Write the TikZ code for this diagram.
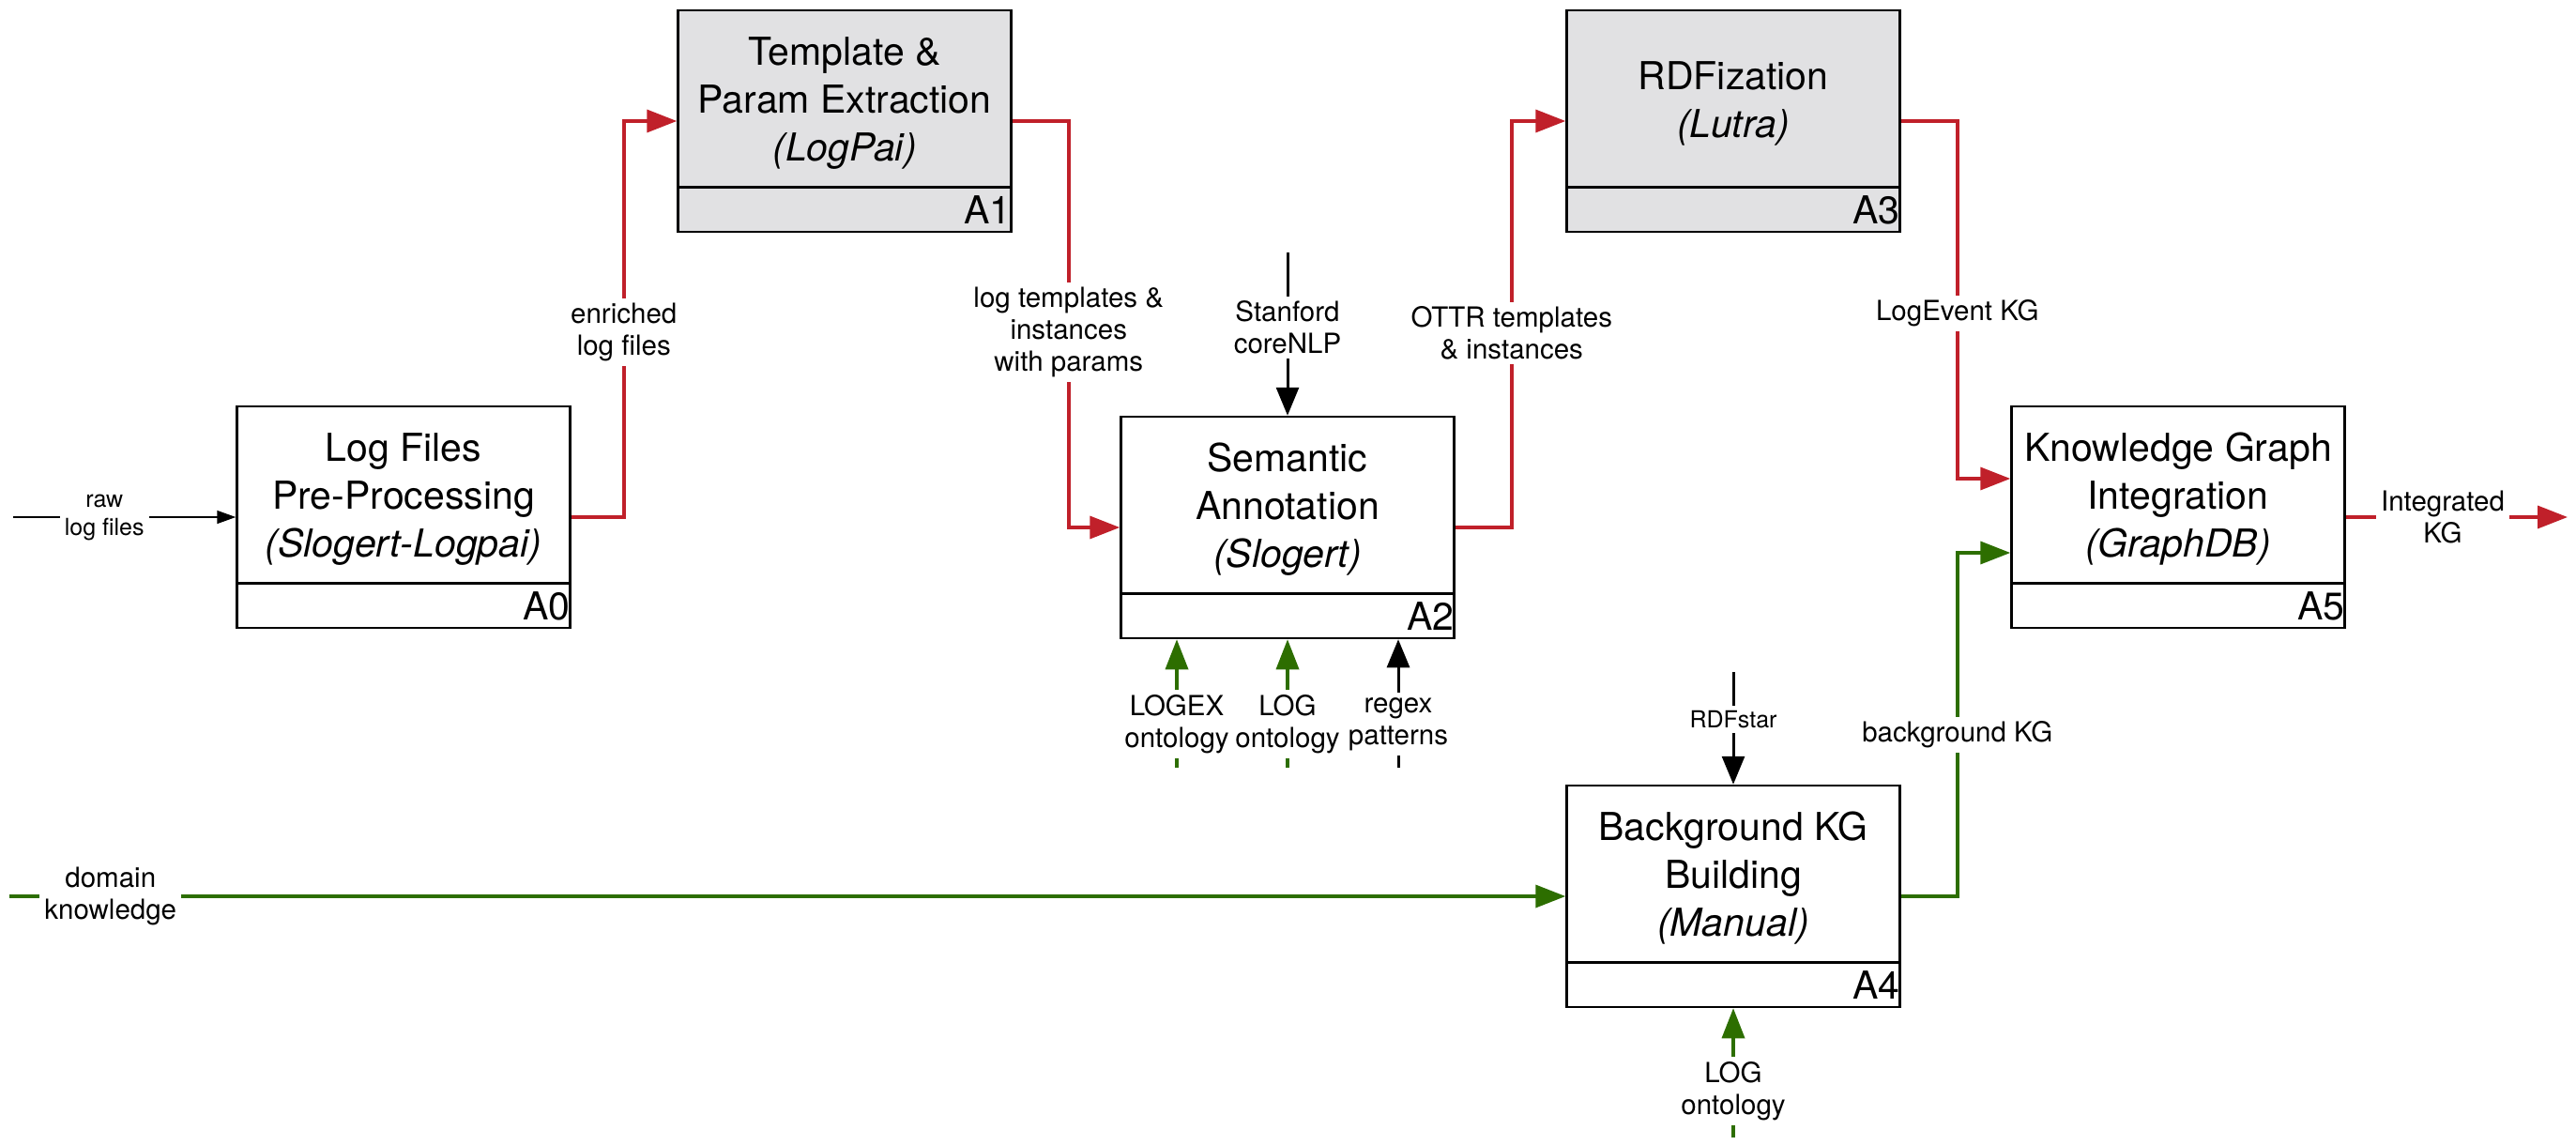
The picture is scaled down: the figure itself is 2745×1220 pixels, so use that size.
\documentclass[tikz,border=0pt]{standalone}
\usepackage{fontspec}
\setmainfont{TeX Gyre Heros}
\usetikzlibrary{arrows.meta}

\definecolor{flowred}{HTML}{C0202A}
\definecolor{mechgreen}{HTML}{2D6E00}
\definecolor{boxgrey}{HTML}{E1E1E3}

\newcommand{\boxfont}{\fontsize{41pt}{51pt}\selectfont}
\newcommand{\lblfont}{\fontsize{29.5pt}{34pt}\selectfont}
\newcommand{\lblsmallfont}{\fontsize{25pt}{30pt}\selectfont}

\begin{document}
\begin{tikzpicture}[x=1pt,y=-1pt,
   box/.style={rectangle,draw,line width=2.5pt,minimum width=355pt,
    minimum height=236pt,inner sep=0pt},
   greybox/.style={box,fill=boxgrey},
   boxtitle/.style={align=center,font=\boxfont,inner sep=0pt},
   boxid/.style={anchor=east,font=\boxfont,inner sep=1pt},
   lbl/.style={fill=white,align=center,font=\lblfont,inner xsep=5pt,inner ysep=5pt},
   smalllbl/.style={lbl,font=\lblsmallfont},
   flow/.style={draw=flowred,line width=3.5pt,-{Triangle[length=32pt,width=24pt]}},
   mech/.style={draw=mechgreen,line width=3.5pt,-{Triangle[length=32pt,width=24pt]}},
   ctrl/.style={draw=black,line width=3pt,-{Triangle[length=30pt,width=24pt]}},
   thinarrow/.style={draw=black,line width=1.5pt,-{Triangle[length=20pt,width=14pt]}}
    ]

  \useasboundingbox (0,0) rectangle (2745,1220);

  % -- activity boxes
  \node[box] at (430,551) (a0) {};
  \node[greybox] at (900,129) (a1) {};
  \node[box] at (1372,562) (a2) {};
  \node[greybox] at (1847,129) (a3) {};
  \node[box] at (1847,955) (a4) {};
  \node[box] at (2321,551) (a5) {};

  % -- titles
  \node[boxtitle] at ([yshift=19pt]a0.center) (a0t) {Log Files\\Pre-Processing\\\textit{(Slogert-Logpai)}};
  \node[boxtitle] at ([yshift=19pt]a1.center) (a1t) {Template \&\\Param Extraction\\\textit{(LogPai)}};
  \node[boxtitle] at ([yshift=19pt]a2.center) (a2t) {Semantic\\Annotation\\\textit{(Slogert)}};
  \node[boxtitle] at ([yshift=19pt]a3.center) (a3t) {RDFization\\\textit{(Lutra)}};
  \node[boxtitle] at ([yshift=19pt]a4.center) (a4t) {Background KG\\Building\\\textit{(Manual)}};
  \node[boxtitle] at ([yshift=19pt]a5.center) (a5t) {Knowledge Graph\\Integration\\\textit{(GraphDB)}};

  % -- id strips
  \draw[line width=2.5pt] ([yshift=49pt]a0.south west) -- ([yshift=49pt]a0.south east);
  \draw[line width=2.5pt] ([yshift=49pt]a1.south west) -- ([yshift=49pt]a1.south east);
  \draw[line width=2.5pt] ([yshift=49pt]a2.south west) -- ([yshift=49pt]a2.south east);
  \draw[line width=2.5pt] ([yshift=49pt]a3.south west) -- ([yshift=49pt]a3.south east);
  \draw[line width=2.5pt] ([yshift=49pt]a4.south west) -- ([yshift=49pt]a4.south east);
  \draw[line width=2.5pt] ([yshift=49pt]a5.south west) -- ([yshift=49pt]a5.south east);
  \node[boxid] at ([yshift=24.5pt]a0.south east) (a0id) {A0};
  \node[boxid] at ([yshift=24.5pt]a1.south east) (a1id) {A1};
  \node[boxid] at ([yshift=24.5pt]a2.south east) (a2id) {A2};
  \node[boxid] at ([yshift=24.5pt]a3.south east) (a3id) {A3};
  \node[boxid] at ([yshift=24.5pt]a4.south east) (a4id) {A4};
  \node[boxid] at ([yshift=24.5pt]a5.south east) (a5id) {A5};

  % -- inputs from outside
  \coordinate (rawin) at (14,551);
  \draw[thinarrow] (rawin) -- node[smalllbl,pos=0.41] {raw\\log files} (a0.west);
  \coordinate (domainin) at (10,955);
  \draw[mech] (domainin) -- node[lbl,pos=0.065] {domain\\knowledge} (a4.west);

  % -- flows between activities
  \draw[flow] (a0.east) -- ++(56,0) |- node[lbl,pos=0.233] {enriched\\log files} (a1.west);
  \draw[flow] (a1.east) -- ++(60,0) |- node[lbl,pos=0.26] {log templates \&\\instances\\with params} (a2.west);
  \draw[flow] (a2.east) -- ++(60,0) |- node[lbl,pos=0.239] {OTTR templates\\\& instances} (a3.west);
  \draw[flow] (a3.east) -- ++(60,0) |- node[lbl,pos=0.269] {LogEvent KG} ([yshift=41pt]a5.west);
  \draw[mech] (a4.east) -- ++(60,0) |- node[lbl,pos=0.235] {background KG} ([yshift=-38pt]a5.west);

  % -- output
  \coordinate (kgout) at (2736,551);
  \draw[flow] (a5.east) -- node[lbl,pos=0.437] {Integrated\\KG} (kgout);

  % -- controls
  \coordinate (nlpin) at (1372,269);
  \draw[ctrl] (nlpin) -- node[lbl,pos=0.46] {Stanford\\coreNLP} (a2.north);
  \coordinate (starin) at (1847,716);
  \draw[ctrl] (starin) -- node[smalllbl,pos=0.42] {RDFstar} (a4.north);

  % -- mechanisms
  \coordinate (logexin) at (1254,818);
  \draw[mech] (logexin) -- node[lbl,pos=0.34,inner xsep=1pt] {LOGEX\\ontology} ([xshift=-118pt]a2.south);
  \coordinate (login) at (1372,818);
  \draw[mech] (login) -- node[lbl,pos=0.34,inner xsep=1pt] {LOG\\ontology} (a2.south);
  \coordinate (regexin) at (1490,818);
  \draw[ctrl] (regexin) -- node[lbl,pos=0.34,inner xsep=1pt] {regex\\patterns} ([xshift=118pt]a2.south);
  \coordinate (logfour) at (1847,1212);
  \draw[mech] (logfour) -- node[lbl,pos=0.36] {LOG\\ontology} (a4.south);

\end{tikzpicture}
\end{document}
